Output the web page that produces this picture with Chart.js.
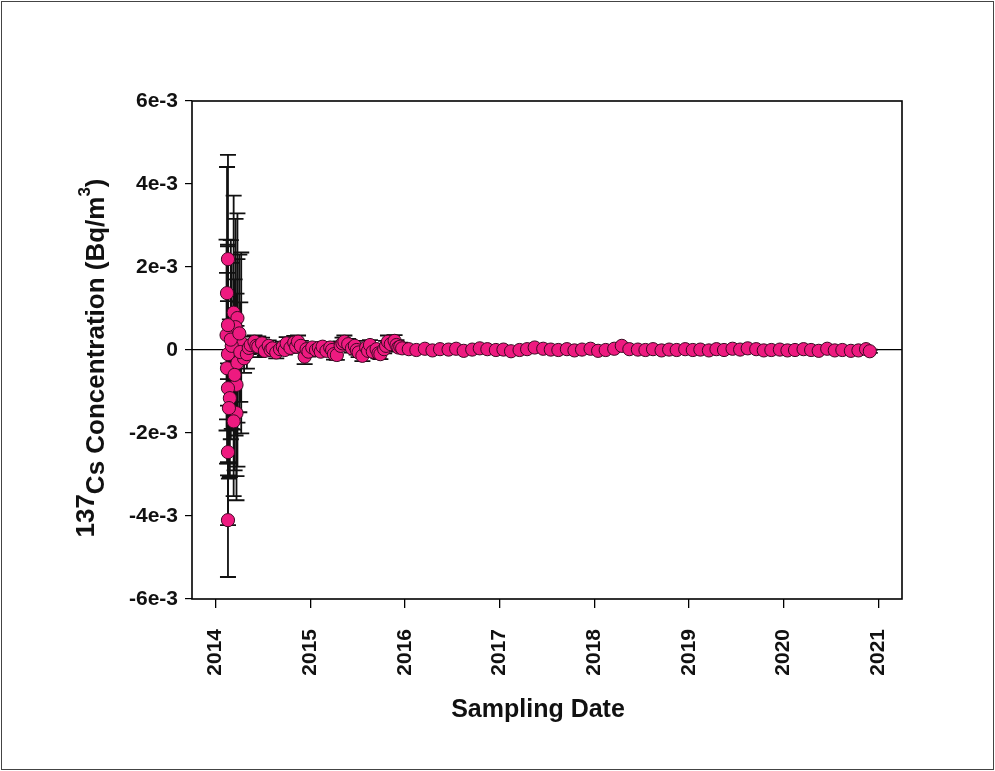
<!DOCTYPE html>
<html>
<head>
<meta charset="utf-8">
<script src="https://cdn.jsdelivr.net/npm/chart.js@4/dist/chart.umd.min.js"></script>
<style>
  body { margin: 0; background: #fff; }
  #grafico { display: block; }
</style>
</head>
<body>
<canvas id="grafico" width="995" height="771"></canvas>
<script>
// Datos: fecha en años decimales, concentración y error en unidades de 1e-3 Bq/m3

// Primeras semanas de 2014 (valores muy dispersos)
const earlyDates = [2014.13, 2014.12, 2014.19, 2014.23, 2014.21, 2014.115, 2014.13, 2014.27, 2014.13,
  2014.12, 2014.23, 2014.22, 2014.13, 2014.15, 2014.22, 2014.19, 2014.13, 2014.13, 2014.30,
  2014.17, 2014.26, 2014.16, 2014.20, 2014.14, 2014.25];
const earlyConc = [2.19, 1.37, 0.90, 0.77, 0.55, 0.36, 0.60, 0.17, -0.10,
  -0.44, -0.31, -0.84, -0.92, -1.16, -1.52, -1.72, -2.46, -4.10, -0.20,
  0.10, -0.05, 0.25, -0.60, -1.40, 0.40];
const earlyErr = [2.51, 3.04, 2.82, 2.52, 2.61, 2.30, 1.94, 2.18, 2.60,
  2.30, 2.50, 2.20, 2.10, 1.90, 2.10, 1.80, 1.76, 1.37, 0.35,
  2.00, 1.20, 2.40, 2.30, 1.70, 1.90];

// Resto de 2014 y 2015 (muestreo semanal / quincenal)
const midDates = [2014.33, 2014.35, 2014.37, 2014.41, 2014.43, 2014.45, 2014.49, 2014.52, 2014.56, 2014.58,
  2014.60, 2014.64, 2014.68, 2014.71, 2014.73, 2014.75, 2014.79, 2014.83, 2014.85, 2014.87,
  2014.90, 2014.94, 2014.96, 2014.98, 2015.02, 2015.06, 2015.09, 2015.11, 2015.13, 2015.17,
  2015.21, 2015.23, 2015.25, 2015.28, 2015.32, 2015.34, 2015.36, 2015.40, 2015.44, 2015.47,
  2015.49, 2015.51, 2015.55, 2015.59, 2015.61, 2015.63, 2015.66, 2015.70, 2015.72, 2015.74,
  2015.78, 2015.80, 2015.82, 2015.85, 2015.89, 2015.91, 2015.93, 2015.95, 2015.97];
const midConc = [-0.10, 0.05, 0.12, 0.20, 0.10, 0.08, 0.16, -0.02, 0.10, 0.00,
  0.04, -0.06, 0.02, 0.08, 0.00, 0.16, 0.05, 0.18, 0.08, 0.20,
  0.10, -0.16, 0.02, -0.04, 0.06, 0.00, 0.05, -0.04, 0.08, -0.02,
  0.06, 0.00, -0.10, -0.12, 0.10, 0.16, 0.20, 0.14, 0.04, 0.10,
  0.00, -0.06, -0.14, 0.06, -0.02, 0.12, -0.04, 0.02, -0.08, -0.10,
  0.02, 0.10, 0.20, 0.14, 0.22, 0.12, 0.06, 0.08, 0.04];
const midErr = [0.35, 0.15, 0.20, 0.15, 0.13, 0.25, 0.14, 0.12, 0.13, 0.11,
  0.12, 0.14, 0.11, 0.12, 0.11, 0.15, 0.12, 0.16, 0.12, 0.15,
  0.12, 0.18, 0.11, 0.12, 0.11, 0.10, 0.12, 0.10, 0.11, 0.10,
  0.12, 0.11, 0.13, 0.12, 0.11, 0.14, 0.15, 0.13, 0.10, 0.12,
  0.11, 0.11, 0.13, 0.10, 0.11, 0.12, 0.11, 0.10, 0.12, 0.12,
  0.10, 0.12, 0.15, 0.12, 0.14, 0.12, 0.10, 0.10, 0.09];

// 2016 - 2020 (muestreo mensual)
const lateDates = [2016.04, 2016.12, 2016.21, 2016.29, 2016.37, 2016.46, 2016.54, 2016.62, 2016.71, 2016.79, 2016.87, 2016.96,
  2017.04, 2017.12, 2017.21, 2017.29, 2017.37, 2017.46, 2017.54, 2017.62, 2017.71, 2017.79, 2017.87, 2017.96,
  2018.04, 2018.12, 2018.21, 2018.29, 2018.37, 2018.46, 2018.54, 2018.62, 2018.71, 2018.79, 2018.87, 2018.96,
  2019.04, 2019.12, 2019.21, 2019.29, 2019.37, 2019.46, 2019.54, 2019.62, 2019.71, 2019.79, 2019.87, 2019.96,
  2020.04, 2020.12, 2020.21, 2020.29, 2020.37, 2020.46, 2020.54, 2020.62, 2020.71, 2020.79, 2020.87, 2020.91];
const lateConc = [0.02, 0.00, 0.03, -0.01, 0.02, 0.01, 0.03, -0.02, 0.01, 0.04, 0.02, 0.00,
  0.01, -0.03, 0.00, 0.02, 0.06, 0.03, 0.01, 0.00, 0.02, -0.01, 0.01, 0.03,
  -0.02, 0.00, 0.03, 0.10, 0.02, 0.01, 0.00, 0.02, -0.01, 0.01, 0.00, 0.02,
  0.00, 0.01, -0.01, 0.02, 0.00, 0.03, 0.01, 0.04, 0.02, -0.01, 0.00, 0.01,
  -0.01, 0.00, 0.02, 0.00, -0.02, 0.03, -0.01, 0.00, -0.02, -0.01, 0.02, -0.03];
const lateErr = [0.04, 0.03, 0.04, 0.03, 0.04, 0.03, 0.04, 0.03, 0.04, 0.04, 0.03, 0.03,
  0.03, 0.04, 0.03, 0.04, 0.05, 0.04, 0.03, 0.03, 0.04, 0.03, 0.03, 0.04,
  0.04, 0.03, 0.04, 0.05, 0.03, 0.03, 0.03, 0.04, 0.03, 0.03, 0.03, 0.04,
  0.03, 0.03, 0.03, 0.04, 0.03, 0.04, 0.03, 0.04, 0.04, 0.03, 0.03, 0.03,
  0.03, 0.03, 0.04, 0.03, 0.03, 0.04, 0.03, 0.03, 0.03, 0.03, 0.04, 0.04];

// Marcas de los ejes
const yearTicks = [2014, 2015, 2016, 2017, 2018, 2019, 2020, 2021];
const concTicks = [-6, -4, -2, 0, 2, 4, 6];

const dates = earlyDates.concat(midDates, lateDates);
const conc = earlyConc.concat(midConc, lateConc);
const errs = earlyErr.concat(midErr, lateErr);

const puntos = dates.map((d, i) => ({ x: d, y: conc[i], err: errs[i] }));

const FUENTE = "'Liberation Sans', Arial, sans-serif";

// Dibuja fondo, barras de error, marco y titulos de ejes
const decoracion = {
  id: "decoracion",
  beforeDraw(chart) {
    const ctx = chart.ctx;
    ctx.save();
    ctx.fillStyle = "#fff";
    ctx.fillRect(0, 0, chart.width, chart.height);
    ctx.strokeStyle = "#444";
    ctx.lineWidth = 1;
    ctx.strokeRect(1.5, 1.5, chart.width - 3, chart.height - 3);
    ctx.restore();
  },
  beforeDatasetsDraw(chart) {
    const ctx = chart.ctx;
    const xs = chart.scales.x;
    const ys = chart.scales.y;
    const a = chart.chartArea;
    ctx.save();
    ctx.beginPath();
    ctx.rect(a.left, a.top, a.right - a.left, a.bottom - a.top);
    ctx.clip();
    ctx.strokeStyle = "#111";
    ctx.lineWidth = 1.8;
    puntos.forEach((p) => {
      const px = xs.getPixelForValue(p.x);
      const top = ys.getPixelForValue(p.y + p.err);
      const bot = ys.getPixelForValue(p.y - p.err);
      ctx.beginPath();
      ctx.moveTo(px, top);
      ctx.lineTo(px, bot);
      ctx.moveTo(px - 8, top);
      ctx.lineTo(px + 8, top);
      ctx.moveTo(px - 8, bot);
      ctx.lineTo(px + 8, bot);
      ctx.stroke();
    });
    ctx.restore();
  },
  afterDraw(chart) {
    const ctx = chart.ctx;
    const a = chart.chartArea;
    ctx.save();
    ctx.strokeStyle = "#000";
    ctx.lineWidth = 1.6;
    ctx.strokeRect(a.left, a.top, a.right - a.left, a.bottom - a.top);

    // titulo eje X
    ctx.fillStyle = "#111";
    ctx.font = "bold 25px " + FUENTE;
    ctx.textAlign = "center";
    ctx.textBaseline = "alphabetic";
    ctx.fillText("Sampling Date", 538, 717);

    // titulo eje Y con superindices
    const big = "bold 26px " + FUENTE;
    const small = "bold 17px " + FUENTE;
    const partes = [
      { t: "137", f: big, dy: -10 },
      { t: "Cs Concentration (Bq/m", f: big, dy: 0 },
      { t: "3", f: small, dy: -14 },
      { t: ")", f: big, dy: 0 },
    ];
    let total = 0;
    partes.forEach((p) => {
      ctx.font = p.f;
      p.w = ctx.measureText(p.t).width;
      total += p.w;
    });
    ctx.translate(104, 358);
    ctx.rotate(-Math.PI / 2);
    ctx.textAlign = "left";
    let x = -total / 2;
    partes.forEach((p) => {
      ctx.font = p.f;
      ctx.fillText(p.t, x, p.dy);
      x += p.w;
    });
    ctx.restore();
  },
};

new Chart(document.getElementById("grafico"), {
  type: "scatter",
  data: {
    datasets: [
      {
        label: "137Cs",
        data: puntos,
        backgroundColor: "#ee1a80",
        borderColor: "#3a0a22",
        borderWidth: 1,
        pointRadius: 6.6,
        pointHoverRadius: 6.6,
      },
    ],
  },
  options: {
    responsive: false,
    animation: false,
    devicePixelRatio: 1,
    layout: { padding: { top: 101, right: 93, left: 0, bottom: 0 } },
    plugins: {
      legend: { display: false },
      tooltip: { enabled: false },
    },
    scales: {
      x: {
        type: "linear",
        min: 2013.75,
        max: 2021.25,
        afterFit: (s) => { s.height = 172; },
        afterBuildTicks: (s) => { s.ticks = yearTicks.map((v) => ({ value: v })); },
        border: { display: false },
        grid: { drawOnChartArea: false, tickColor: "#000", tickLength: 9, lineWidth: 1.3 },
        ticks: {
          minRotation: 90,
          maxRotation: 90,
          padding: 21,
          color: "#111",
          font: { family: FUENTE, size: 21, weight: "bold" },
          callback: (v) => String(v),
        },
      },
      y: {
        type: "linear",
        min: -6,
        max: 6,
        afterFit: (s) => { s.width = 192; },
        afterBuildTicks: (s) => { s.ticks = concTicks.map((v) => ({ value: v })); },
        border: { display: false },
        grid: {
          color: (c) => (c.tick && c.tick.value === 0 ? "#000" : "rgba(0,0,0,0)"),
          tickColor: "#000",
          tickLength: 7,
          lineWidth: 1.2,
        },
        ticks: {
          padding: 7,
          color: "#111",
          font: { family: FUENTE, size: 21, weight: "bold" },
          callback: (v) => (v === 0 ? "0" : v + "e-3"),
        },
      },
    },
  },
  plugins: [decoracion],
});
</script>
</body>
</html>
